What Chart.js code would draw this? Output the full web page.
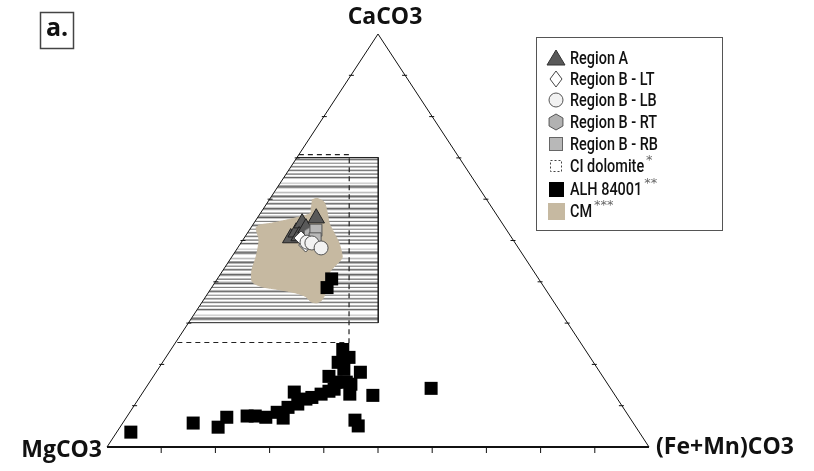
<!DOCTYPE html>
<html>
<head>
<meta charset="utf-8">
<script src="https://cdn.jsdelivr.net/npm/chart.js@4.4.1/dist/chart.umd.min.js"></script>
<style>
  html, body { margin: 0; padding: 0; background: #fff; }
  #wrap { position: relative; width: 814px; height: 471px; }
</style>
</head>
<body>
<div id="wrap"><canvas id="tern" width="814" height="471"></canvas></div>
<script>
// compositions in mol% as [CaCO3, (Fe+Mn)CO3]; MgCO3 is the rest
const regionA = [[50.6, 8.6], [52.0, 8.9], [54.2, 8.9], [51.1, 9.9], [53.0, 10.2], [55.4, 10.9]];
const regionBLT = [[50.6, 10.5], [48.9, 12.2]];
const regionBLB = [[49.6, 12.1], [49.4, 13.1], [48.2, 15.4]];
const regionBRT = [[51.6, 11.7]];
const regionBRB = [[52.5, 12.3], [50.4, 13.2]];
const alh84001 = [
  [3.6, 2.6], [5.8, 13.0], [4.8, 18.1], [7.2, 18.5], [7.5, 22.1], [7.5, 23.6], [7.2, 25.7],
  [8.4, 27.2], [7.0, 29.0], [9.6, 28.6], [13.3, 27.9], [10.4, 30.0], [11.6, 30.9], [12.0, 31.8],
  [12.8, 33.1], [13.5, 34.2], [14.0, 34.9], [17.1, 32.4], [20.5, 32.4], [23.6, 31.7], [21.7, 33.8],
  [15.7, 36.3], [15.2, 37.4], [12.8, 38.4], [18.1, 37.7], [12.5, 42.8], [6.5, 42.5], [5.1, 43.8],
  [14.2, 52.7], [18.8, 34.3], [15.7, 34.4], [40.7, 21.1], [38.6, 21.3]
];
// CI dolomite field (open dashed outline) and the hatched field
const ciDolomite = [[70.8, 0], [70.8, 9.3], [25.3, 32.0], [25.3, 0]];
const hatchField = [[70.1, 0], [70.1, 15.0], [30.1, 35.0], [30.1, 0]];
// CM carbonates field outline
const cmField = [
  [59.8, 7.9], [60.2, 8.6], [59.3, 10.4], [57.3, 11.9], [54.2, 13.9], [51.8, 16.0], [49.4, 18.1],
  [46.0, 20.4], [44.8, 20.4], [43.6, 20.1], [42.2, 19.9], [40.5, 20.4], [38.1, 21.4], [35.7, 21.9],
  [34.9, 21.3], [35.2, 20.0], [36.4, 18.5], [37.3, 16.2], [38.1, 12.7], [38.8, 9.2], [40.0, 6.8],
  [42.9, 5.3], [46.0, 4.5], [50.1, 3.0], [53.0, 1.0], [53.7, 1.2], [54.2, 3.3], [54.9, 5.5],
  [55.7, 7.6], [56.6, 9.3], [58.1, 8.6]
];
const frame = [[100, 0], [0, 0], [0, 100], [100, 0]];
const tickSteps = [10, 20, 30, 40, 50, 60, 70, 80, 90];
const endMembers = ["CaCO3", "MgCO3", "(Fe+Mn)CO3"];
const legendLabels = ["Region A", "Region B - LT", "Region B - LB", "Region B - RT", "Region B - RB", "CI dolomite", "ALH 84001", "CM"];
const legendStars = ["", "", "", "", "", "*", "**", "***"];

// ternary -> plot units (x along the base, y = CaCO3)
function toXY(p) {
  return { x: p[1] + p[0] / 2, y: p[0] };
}
function pts(list) {
  return list.map(toXY);
}

const TAN = "#c6b9a1";

// striped grey fill for the hatched field
function makeStripes() {
  const greys = [250, 200, 150, 255, 225, 120, 175, 255, 245, 205, 105, 160, 235, 255, 190, 140,
    255, 215, 165, 95, 200, 255, 235, 130, 255, 248, 180, 115, 205, 255, 215, 160,
    255, 240, 140, 190, 255, 205, 125, 230, 255, 175, 150, 255, 225, 105, 200, 255,
    255, 255, 230, 210, 250, 170, 120, 140, 220, 255, 255, 235, 190, 230, 255, 160, 110, 180];
  const c = document.createElement("canvas");
  c.width = 8;
  c.height = greys.length;
  const g = c.getContext("2d");
  greys.forEach((v, i) => {
    g.fillStyle = "rgb(" + v + "," + v + "," + v + ")";
    g.fillRect(0, i, 8, 1);
  });
  return g.createPattern(c, "repeat");
}

function hexPath(ctx, x, y, r) {
  ctx.beginPath();
  for (let i = 0; i < 6; i++) {
    const a = Math.PI / 6 + i * Math.PI / 3;
    const px = x + r * Math.cos(a), py = y + r * Math.sin(a);
    if (i === 0) ctx.moveTo(px, py); else ctx.lineTo(px, py);
  }
  ctx.closePath();
}

function makeHex(r) {
  const c = document.createElement("canvas");
  c.width = c.height = r * 2 + 3;
  const g = c.getContext("2d");
  hexPath(g, r + 1.5, r + 1.5, r);
  g.fillStyle = "#b2b2b2";
  g.fill();
  g.strokeStyle = "#555";
  g.lineWidth = 1;
  g.stroke();
  return c;
}

// condensed-looking text: draw narrower than the font's own width
function narrowText(ctx, text, x, y, squeeze) {
  ctx.save();
  ctx.translate(x, y);
  ctx.scale(squeeze, 1);
  ctx.fillText(text, 0, 0);
  ctx.restore();
  return ctx.measureText(text).width * squeeze;
}

const stripes = makeStripes();

const ternaryDecor = {
  id: "ternaryDecor",
  afterDatasetsDraw(chart) {
    const ctx = chart.ctx;
    const xs = chart.scales.x, ys = chart.scales.y;
    const px = p => xs.getPixelForValue(toXY(p).x);
    const py = p => ys.getPixelForValue(toXY(p).y);
    ctx.save();
    ctx.strokeStyle = "#111";
    // bottom edge a bit heavier
    ctx.lineWidth = 2;
    ctx.beginPath();
    ctx.moveTo(px([0, 0]), py([0, 0]));
    ctx.lineTo(px([0, 100]), py([0, 100]));
    ctx.stroke();
    ctx.lineWidth = 1;
    tickSteps.forEach(t => {
      // base ticks
      let b = [0, t];
      ctx.beginPath();
      ctx.moveTo(px(b), py(b));
      ctx.lineTo(px(b), py(b) + 6);
      ctx.stroke();
      // left edge ticks
      let l = [t, 0];
      ctx.beginPath();
      ctx.moveTo(px(l) - 2, py(l));
      ctx.lineTo(px(l) + 3, py(l));
      ctx.stroke();
      // right edge ticks
      let r = [t, 100 - t];
      ctx.beginPath();
      ctx.moveTo(px(r) + 2, py(r));
      ctx.lineTo(px(r) - 3, py(r));
      ctx.stroke();
    });

    // end-member labels
    ctx.fillStyle = "#111";
    ctx.font = "bold 23px 'Open Sans', sans-serif";
    ctx.textBaseline = "middle";
    ctx.textAlign = "center";
    ctx.fillText(endMembers[0], px([100, 0]) + 7, 17);
    ctx.textAlign = "right";
    ctx.fillText(endMembers[1], px([0, 0]) - 5, py([0, 0]) + 3);
    ctx.textAlign = "left";
    ctx.fillText(endMembers[2], px([0, 100]) + 7, py([0, 100]));

    // panel letter
    ctx.strokeStyle = "#444";
    ctx.lineWidth = 1.5;
    ctx.strokeRect(40.5, 12.5, 33, 36);
    ctx.font = "bold 25px 'Open Sans', sans-serif";
    ctx.textAlign = "center";
    ctx.fillText("a.", 57, 29);
    ctx.restore();
  },
  afterDraw(chart) {
    const ctx = chart.ctx;
    ctx.save();
    ctx.strokeStyle = "#555";
    ctx.lineWidth = 1;
    ctx.strokeRect(536.5, 37.5, 186, 193);
    const ix = 556, tx = 570;
    const rows = [58, 79, 100, 122, 144, 166, 189, 211];
    // icons
    rows.forEach((y, i) => {
      ctx.lineWidth = 1;
      ctx.setLineDash([]);
      if (i === 0) {
        ctx.beginPath();
        ctx.moveTo(ix, y - 8); ctx.lineTo(ix + 9, y + 7); ctx.lineTo(ix - 9, y + 7); ctx.closePath();
        ctx.fillStyle = "#595959"; ctx.fill();
        ctx.strokeStyle = "#333"; ctx.stroke();
      } else if (i === 1) {
        ctx.beginPath();
        ctx.moveTo(ix, y - 8); ctx.lineTo(ix + 6, y); ctx.lineTo(ix, y + 8); ctx.lineTo(ix - 6, y); ctx.closePath();
        ctx.fillStyle = "#fff"; ctx.fill();
        ctx.strokeStyle = "#444"; ctx.stroke();
      } else if (i === 2) {
        ctx.beginPath();
        ctx.arc(ix, y, 7, 0, Math.PI * 2);
        ctx.fillStyle = "#f2f2f2"; ctx.fill();
        ctx.strokeStyle = "#555"; ctx.stroke();
      } else if (i === 3) {
        hexPath(ctx, ix, y, 8);
        ctx.fillStyle = "#b2b2b2"; ctx.fill();
        ctx.strokeStyle = "#555"; ctx.stroke();
      } else if (i === 4) {
        ctx.fillStyle = "#b8b8b8";
        ctx.fillRect(ix - 7, y - 7, 14, 14);
        ctx.strokeStyle = "#666";
        ctx.strokeRect(ix - 6.5, y - 6.5, 13, 13);
      } else if (i === 5) {
        ctx.setLineDash([2, 2]);
        ctx.strokeStyle = "#444";
        ctx.strokeRect(ix - 5.5, y - 5.5, 11, 11);
        ctx.setLineDash([]);
      } else if (i === 6) {
        ctx.fillStyle = "#000";
        ctx.fillRect(ix - 7, y - 7, 15, 15);
      } else {
        ctx.fillStyle = TAN;
        ctx.fillRect(ix - 8, y - 8, 17, 17);
      }
    });
    // texts
    ctx.fillStyle = "#111";
    ctx.textBaseline = "middle";
    ctx.textAlign = "left";
    rows.forEach((y, i) => {
      ctx.font = "500 19px Roboto, sans-serif";
      const w = narrowText(ctx, legendLabels[i], tx, y + 1, 0.76);
      if (legendStars[i]) {
        ctx.font = "13px 'DejaVu Sans', sans-serif";
        ctx.fillStyle = "#666";
        ctx.fillText(legendStars[i], tx + w + 2, y - 5);
        ctx.fillStyle = "#111";
      }
    });
    ctx.restore();
  }
};

const markerBase = { showLine: false, clip: false };

new Chart(document.getElementById("tern"), {
  type: "scatter",
  data: {
    datasets: [
      { label: "hatch", data: pts(hatchField), showLine: true, fill: "shape", backgroundColor: stripes,
        borderColor: "#222", borderWidth: 1, pointRadius: 0, tension: 0, order: 10 },
      { label: "frame", data: pts(frame), showLine: true, fill: false, borderColor: "#111",
        borderWidth: 1, pointRadius: 0, tension: 0, order: 9, clip: false },
      { label: "CM", data: pts(cmField), showLine: true, fill: "shape", backgroundColor: TAN,
        borderColor: TAN, borderWidth: 1, pointRadius: 0, tension: 0.25, order: 8 },
      { label: "CI dolomite", data: pts(ciDolomite), showLine: true, fill: false, borderColor: "#222",
        borderWidth: 1.2, borderDash: [5, 4], pointRadius: 0, tension: 0, order: 7 },
      { ...markerBase, label: "ALH 84001", data: pts(alh84001), pointStyle: "rect", pointRadius: 9.2,
        backgroundColor: "#000", borderColor: "#000", borderWidth: 0, order: 6 },
      { ...markerBase, label: "Region A", data: pts(regionA), pointStyle: "triangle", pointRadius: 9.5,
        backgroundColor: "#595959", borderColor: "#222", borderWidth: 1, order: 5 },
      { ...markerBase, label: "Region B - RT", data: pts(regionBRT), pointStyle: makeHex(7),
        order: 4 },
      { ...markerBase, label: "Region B - LT", data: pts(regionBLT), pointStyle: "rectRot", pointRadius: 7,
        backgroundColor: "#fff", borderColor: "#444", borderWidth: 1, order: 3 },
      { ...markerBase, label: "Region B - RB", data: pts(regionBRB), pointStyle: "rect", pointRadius: 8.5,
        backgroundColor: "#b8b8b8", borderColor: "#555", borderWidth: 1, order: 2 },
      { ...markerBase, label: "Region B - LB", data: pts(regionBLB), pointStyle: "circle", pointRadius: 7,
        backgroundColor: "#f2f2f2", borderColor: "#555", borderWidth: 1, order: 1 }
    ]
  },
  options: {
    responsive: false,
    animation: false,
    layout: { padding: { left: 107, right: 165, top: 34, bottom: 24 } },
    scales: {
      x: { type: "linear", min: 0, max: 100, display: false },
      y: { type: "linear", min: 0, max: 100, display: false }
    },
    plugins: {
      legend: { display: false },
      tooltip: { enabled: false }
    }
  },
  plugins: [ternaryDecor]
});
</script>
</body>
</html>
